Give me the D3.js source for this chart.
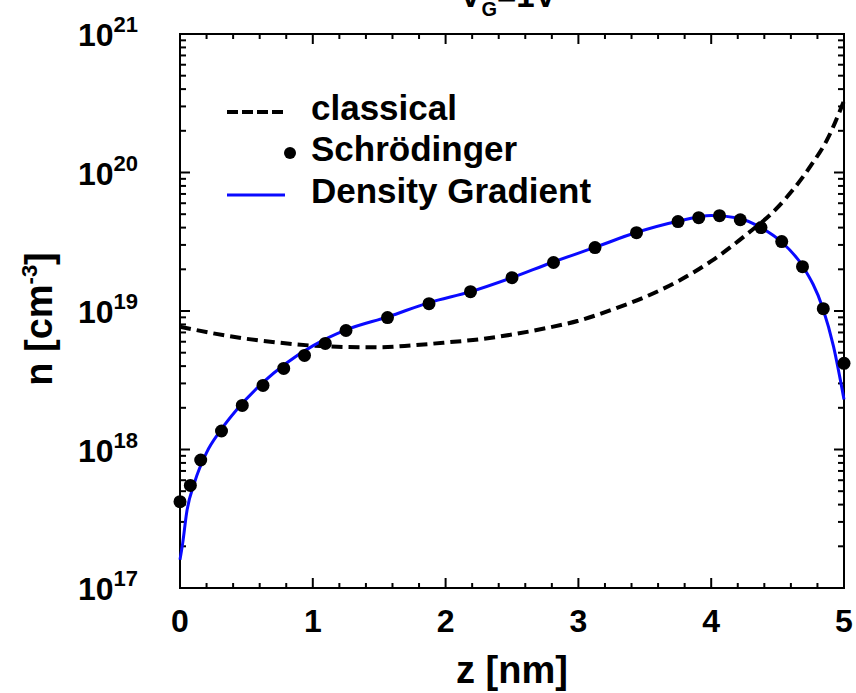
<!DOCTYPE html>
<html lang="en">
<head>
    <meta charset="UTF-8">
    <title>n(z), VG=1V</title>
    <script src="https://cdn.jsdelivr.net/npm/d3@7"></script>
    <style>
        body { margin: 0; background: #fff; }
        svg { display: block; font-family: "Liberation Sans", Arial, Helvetica, sans-serif; font-weight: bold; }
    </style>
</head>
<body>
<div class="chart"></div>
<script>
"use strict";

// Schrödinger solution (dots)
var zSchrod = [0, 0.078, 0.156, 0.3125, 0.469, 0.625, 0.781, 0.9375, 1.094, 1.25,
               1.5625, 1.875, 2.1875, 2.5, 2.8125, 3.125, 3.4375, 3.75, 3.906, 4.0625,
               4.219, 4.375, 4.531, 4.6875, 4.844, 5.0];
var nSchrod = [4.2e17, 5.5e17, 8.4e17, 1.36e18, 2.08e18, 2.9e18, 3.85e18, 4.78e18, 5.83e18, 7.23e18,
               8.97e18, 1.13e19, 1.38e19, 1.74e19, 2.24e19, 2.87e19, 3.68e19, 4.42e19, 4.72e19, 4.88e19,
               4.56e19, 4.0e19, 3.17e19, 2.09e19, 1.04e19, 4.19e18];

// classical (dashed)
var zClassical = [0, 0.25, 0.5, 0.75, 1.0, 1.25, 1.5, 1.75, 2.0, 2.25, 2.5,
                  2.75, 3.0, 3.25, 3.5, 3.75, 4.0, 4.25, 4.5, 4.75, 4.875, 5.0];
var nClassical = [7.7e18, 6.9e18, 6.3e18, 5.9e18, 5.62e18, 5.5e18, 5.47e18, 5.65e18, 5.92e18, 6.24e18, 6.76e18,
                  7.5e18, 8.5e18, 1.02e19, 1.26e19, 1.64e19, 2.29e19, 3.47e19, 5.6e19, 1.12e20, 1.74e20, 3.3e20];

// density gradient (blue)
var zDG = [0, 0.02, 0.05, 0.11, 0.2, 0.3, 0.43, 0.625, 0.8, 1.0, 1.25, 1.57, 1.875, 2.19,
           2.5, 2.8, 3.125, 3.44, 3.75, 4.0, 4.2, 4.375, 4.53, 4.69, 4.84, 4.92, 5.0];
var nDG = [1.6e17, 2.1e17, 3.5e17, 5.8e17, 9.5e17, 1.35e18, 1.95e18, 3.05e18, 4.2e18, 5.6e18, 7.3e18, 9.1e18, 1.15e19, 1.38e19,
           1.74e19, 2.24e19, 2.88e19, 3.7e19, 4.45e19, 4.9e19, 4.7e19, 4.0e19, 3.15e19, 2.1e19, 1.05e19, 5.6e18, 2.3e18];

var xTicks = [0, 1, 2, 3, 4, 5];
var yExponents = [17, 18, 19, 20, 21];

var legendLabels = ["classical", "Schrödinger", "Density Gradient"];

var width = 856, height = 693;
var margin = {top: 34, right: 12, bottom: 105, left: 180};
var plotW = width - margin.left - margin.right,
    plotH = height - margin.top - margin.bottom;

var blue = "#0a0aff";

var svg = d3.select(".chart").append("svg")
    .attr("width", width)
    .attr("height", height);

svg.append("rect").attr("width", width).attr("height", height).attr("fill", "#fff");

var x = d3.scaleLinear().domain([0, 5]).range([margin.left, margin.left + plotW]);
var y = d3.scaleLog().domain([1e17, 1e21]).range([margin.top + plotH, margin.top]);

var x0 = x.range()[0], x1 = x.range()[1],
    yB = y.range()[0], yT = y.range()[1];

// tick values: major + minor
var xMinor = d3.range(0, 5.0001, 0.2).filter(function(v) { return Math.abs(v - Math.round(v)) > 1e-6; });
var yMajor = yExponents.map(function(e) { return Math.pow(10, e); });
var yMinor = [];
yExponents.slice(0, -1).forEach(function(e) {
    for (var k = 2; k <= 9; k++) yMinor.push(k * Math.pow(10, e));
});

var xTickData = xTicks.map(function(v) { return {v: v, len: 10}; })
    .concat(xMinor.map(function(v) { return {v: v, len: 5}; }));
var yTickData = yMajor.map(function(v) { return {v: v, len: 10}; })
    .concat(yMinor.map(function(v) { return {v: v, len: 6}; }));

var ticks = svg.append("g").attr("stroke", "#000").attr("stroke-width", 2);

// bottom and top ticks (inward)
[[yB, -1], [yT, 1]].forEach(function(side) {
    ticks.selectAll(null).data(xTickData).enter().append("line")
        .attr("x1", function(d) { return x(d.v); })
        .attr("x2", function(d) { return x(d.v); })
        .attr("y1", side[0])
        .attr("y2", function(d) { return side[0] + side[1] * d.len; });
});
// left and right ticks (inward)
[[x0, 1], [x1, -1]].forEach(function(side) {
    ticks.selectAll(null).data(yTickData).enter().append("line")
        .attr("y1", function(d) { return y(d.v); })
        .attr("y2", function(d) { return y(d.v); })
        .attr("x1", side[0])
        .attr("x2", function(d) { return side[0] + side[1] * d.len; });
});

// frame
svg.append("rect")
    .attr("x", x0).attr("y", yT)
    .attr("width", plotW).attr("height", plotH)
    .attr("fill", "none").attr("stroke", "#000").attr("stroke-width", 2);

// tick labels
svg.selectAll("text.xlab").data(xTicks).enter().append("text")
    .attr("class", "xlab")
    .attr("x", function(d) { return x(d); })
    .attr("y", yB + 44)
    .attr("text-anchor", "middle")
    .attr("font-size", 32)
    .text(function(d) { return d; });

var ylab = svg.selectAll("text.ylab").data(yExponents).enter().append("text")
    .attr("class", "ylab")
    .attr("x", 138)
    .attr("y", function(d) { return y(Math.pow(10, d)) + 12; })
    .attr("text-anchor", "end")
    .attr("font-size", 32);
ylab.append("tspan").text("10");
ylab.append("tspan").attr("dy", -14).attr("font-size", 22).text(function(d) { return d; });

// axis titles
svg.append("text")
    .attr("x", (x0 + x1) / 2)
    .attr("y", 683)
    .attr("text-anchor", "middle")
    .attr("font-size", 38)
    .text("z [nm]");

var yt = svg.append("text")
    .attr("transform", "translate(52," + ((yB + yT) / 2 + 8) + ") rotate(-90)")
    .attr("text-anchor", "middle")
    .attr("font-size", 38);
yt.append("tspan").text("n [cm");
yt.append("tspan").attr("dy", -15).attr("font-size", 22).text("-3");
yt.append("tspan").attr("dy", 15).text("]");

// title (cut by the top edge, as in the original figure)
var title = svg.append("text")
    .attr("x", 508)
    .attr("y", 7)
    .attr("text-anchor", "middle")
    .attr("font-size", 33);
title.append("tspan").text("V");
title.append("tspan").attr("dy", 9).attr("font-size", 20).text("G");
title.append("tspan").attr("dy", -9).text("=1V");

// curves
function pts(zs, ns) { return zs.map(function(z, i) { return [z, ns[i]]; }); }
var line = d3.line()
    .x(function(d) { return x(d[0]); })
    .y(function(d) { return y(d[1]); })
    .curve(d3.curveMonotoneX);

svg.append("path")
    .datum(pts(zClassical, nClassical))
    .attr("d", line)
    .attr("fill", "none")
    .attr("stroke", "#000")
    .attr("stroke-width", 4)
    .attr("stroke-dasharray", "11,6");

svg.append("path")
    .datum(pts(zDG, nDG))
    .attr("d", line)
    .attr("fill", "none")
    .attr("stroke", blue)
    .attr("stroke-width", 3);

svg.selectAll("circle.schrod").data(pts(zSchrod, nSchrod)).enter().append("circle")
    .attr("class", "schrod")
    .attr("cx", function(d) { return x(d[0]); })
    .attr("cy", function(d) { return y(d[1]); })
    .attr("r", 6.5)
    .attr("fill", "#000");

// legend
var legend = svg.append("g");
var rowY = [112, 153, 195];
legend.append("line")
    .attr("x1", 227).attr("x2", 285).attr("y1", rowY[0]).attr("y2", rowY[0])
    .attr("stroke", "#000").attr("stroke-width", 4).attr("stroke-dasharray", "11,4");
legend.append("circle")
    .attr("cx", 290).attr("cy", rowY[1]).attr("r", 6).attr("fill", "#000");
legend.append("line")
    .attr("x1", 227).attr("x2", 285).attr("y1", rowY[2]).attr("y2", rowY[2])
    .attr("stroke", blue).attr("stroke-width", 3);
legend.selectAll("text").data(legendLabels).enter().append("text")
    .attr("x", 311)
    .attr("y", function(d, i) { return rowY[i] + 8; })
    .attr("font-size", 35)
    .text(function(d) { return d; });
</script>
</body>
</html>
